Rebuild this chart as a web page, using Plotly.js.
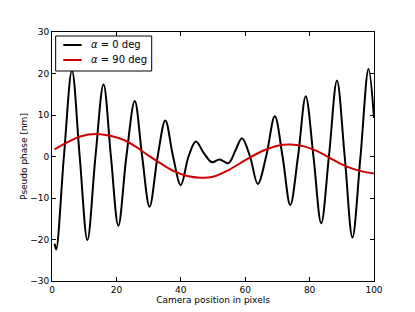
<!DOCTYPE html>
<html>
<head>
<meta charset="utf-8">
<script src="https://cdn.plot.ly/plotly-3.0.1.min.js"></script>
<style>html,body{margin:0;padding:0;background:#fff;}#chart{width:415px;height:312px;}</style>
</head>
<body>
<div id="chart"></div>
<script>
// Black series (alpha = 0 deg): key points (extrema and crossings)
const xAlpha0 = [0.8, 1.3, 3.7, 6.2, 8.6, 11.0, 13.5, 16.0, 18.3, 20.6, 23.1, 25.7, 28.0, 30.3, 32.8, 35.2, 37.6, 40.0, 42.4, 44.7, 47.1, 49.7, 52.0, 54.8, 57.0, 59.0, 61.5, 63.9, 66.5, 69.2, 71.6, 74.0, 76.4, 78.8, 81.2, 83.6, 86.0, 88.5, 90.9, 93.3, 95.8, 98.3, 100.0];
const yAlpha0 = [-21.0, -22.4, 0, 20.7, 0, -20.1, 0, 17.4, 0, -16.7, 0, 13.4, 0, -12.1, 0, 8.7, 0, -6.9, 0, 3.6, 0.9, -1.4, -0.7, -1.6, 1.5, 4.4, 0, -6.6, 0, 9.7, 0, -11.7, 0, 14.5, 0, -16.1, 0, 18.3, 0, -19.5, 0, 21.1, 9.3];
// Red series (alpha = 90 deg)
const xAlpha90 = [0.8, 5, 9, 13.7, 18, 22, 26, 30, 34, 38, 42, 46, 50, 55, 60, 65, 70, 74, 78, 82, 86, 90, 94, 97, 100];
const yAlpha90 = [1.7, 3.5, 4.9, 5.4, 5.0, 4.1, 2.4, 0.2, -1.8, -3.6, -4.7, -5.1, -4.9, -3.2, -0.9, 1.2, 2.6, 2.9, 2.5, 1.4, -0.2, -1.9, -3.1, -3.7, -4.1];
const names = ['<i>α</i> = 0 deg', '<i>α</i> = 90 deg'];
const colors = ['#000000', '#d00000'];
const xTicks = [0, 20, 40, 60, 80, 100];
const yTicks = [-30, -20, -10, 0, 10, 20, 30];

const font = {family: 'DejaVu Sans, sans-serif', size: 9, color: '#000'};
const traces = [
  {x: xAlpha0, y: yAlpha0, name: names[0], mode: 'lines', line: {color: colors[0], width: 2, shape: 'spline', smoothing: 1}},
  {x: xAlpha90, y: yAlpha90, name: names[1], mode: 'lines', line: {color: colors[1], width: 2, shape: 'spline', smoothing: 1}}
];
const axisCommon = {
  showline: true, linecolor: '#000', linewidth: 1, mirror: 'ticks',
  ticks: 'inside', ticklen: 4, tickcolor: '#000', tickwidth: 1,
  showgrid: false, zeroline: false, tickfont: font
};

// Legend box drawn in paper coordinates (matplotlib-style compact legend)
const legRows = [0.9478, 0.8876];
const shapes = [
  {type: 'rect', xref: 'paper', yref: 'paper', x0: 0.0114, x1: 0.3096, y0: 0.8434, y1: 0.9839, line: {color: '#000', width: 1}, fillcolor: '#fff', layer: 'above'}
];
const annotations = [];
names.forEach((n, i) => {
  shapes.push({type: 'line', xref: 'paper', yref: 'paper', x0: 0.035, x1: 0.092, y0: legRows[i], y1: legRows[i], line: {color: colors[i], width: 2}, layer: 'above'});
  annotations.push({xref: 'paper', yref: 'paper', x: 0.115, y: legRows[i], xanchor: 'left', yanchor: 'middle', showarrow: false, text: n, font: {family: 'DejaVu Sans, sans-serif', size: 10, color: '#000'}});
});

const layout = {
  width: 415, height: 312,
  margin: {l: 52, r: 41, t: 32, b: 31},
  paper_bgcolor: '#fff', plot_bgcolor: '#fff',
  font: font,
  showlegend: false,
  shapes: shapes,
  annotations: annotations,
  xaxis: Object.assign({}, axisCommon, {range: [0, 100], tickvals: xTicks, title: {text: 'Camera position in pixels', font: font, standoff: 2}}),
  yaxis: Object.assign({}, axisCommon, {range: [-30, 30], tickvals: yTicks, title: {text: 'Pseudo phase [nm]', font: font, standoff: 1}})
};
Plotly.newPlot('chart', traces, layout, {displayModeBar: false, staticPlot: true});
</script>
</body>
</html>
